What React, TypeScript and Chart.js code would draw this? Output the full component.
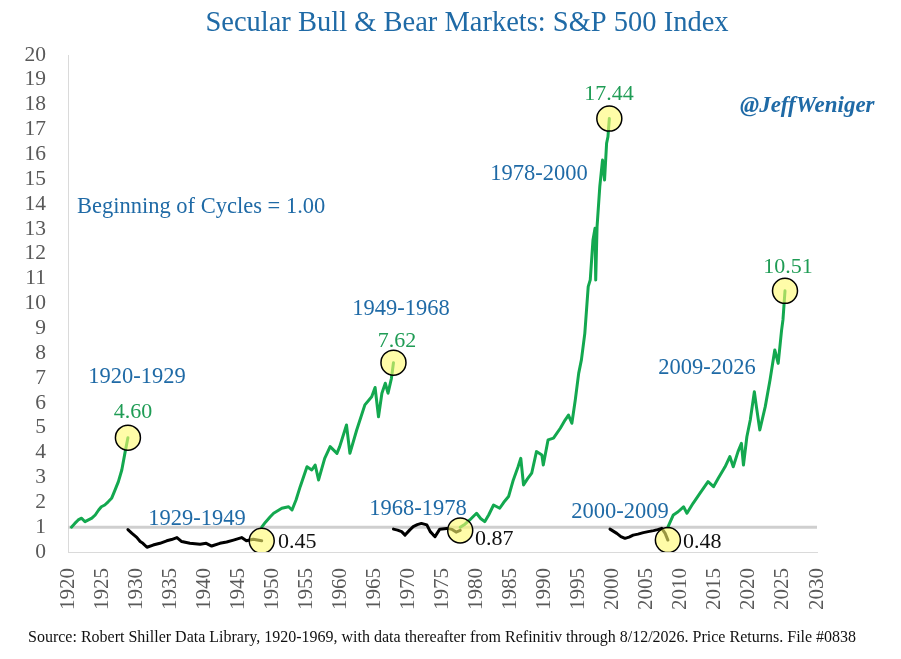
import React, { useEffect, useRef } from "react";
import { Chart, registerables } from "chart.js";

Chart.register(...registerables);

const FONT = '"Liberation Serif", "Times New Roman", serif';
const BLUE = "#1f6aa6";
const GREEN_LINE = "#13a84f";
const GREEN_TEXT = "#1f9c55";
const TICK_GRAY = "#595959";

// ---------- data (years, index value; each cycle starts at 1.00) ----------
const bull1920Years = [1920.5, 1921.0, 1921.5, 1922.0, 1922.5, 1923.0, 1923.5, 1924.0, 1924.5, 1924.9, 1925.4, 1925.9, 1926.4, 1926.9, 1927.4, 1927.9, 1928.4, 1928.8];
const bull1920Values = [1.0, 1.15, 1.29, 1.36, 1.22, 1.29, 1.36, 1.49, 1.69, 1.82, 1.89, 2.02, 2.16, 2.49, 2.83, 3.3, 4.04, 4.6];

const bear1929Years = [1928.8, 1929.4, 1930.1, 1930.6, 1931.0, 1931.6, 1932.5, 1933.5, 1934.5, 1935.2, 1936.0, 1936.7, 1937.9, 1939.4, 1940.3, 1941.1, 1942.3, 1943.3, 1944.3, 1945.5, 1946.2, 1947.2, 1948.45];
const bear1929Values = [0.9, 0.75, 0.59, 0.42, 0.35, 0.19, 0.28, 0.35, 0.45, 0.5, 0.58, 0.42, 0.35, 0.31, 0.35, 0.24, 0.35, 0.4, 0.48, 0.58, 0.45, 0.51, 0.45];

const bull1949Years = [1948.45, 1949.0, 1949.7, 1950.2, 1951.4, 1952.4, 1952.9, 1953.5, 1954.1, 1955.1, 1955.8, 1956.3, 1956.8, 1957.7, 1958.5, 1959.5, 1959.9, 1960.9, 1961.4, 1962.4, 1963.6, 1964.6, 1965.1, 1965.6, 1966.1, 1966.6, 1967.0, 1967.5, 1967.8];
const bull1949Values = [1.0, 1.2, 1.42, 1.56, 1.76, 1.82, 1.69, 2.1, 2.63, 3.43, 3.3, 3.5, 2.9, 3.77, 4.24, 3.97, 4.24, 5.11, 3.97, 4.91, 5.92, 6.25, 6.62, 5.44, 6.39, 6.79, 6.39, 6.99, 7.62];

const bear1968Years = [1967.8, 1968.4, 1969.0, 1969.5, 1970.2, 1970.7, 1971.3, 1971.9, 1972.7, 1973.2, 1973.6, 1973.9, 1974.6, 1975.6, 1976.4, 1977.0, 1977.6];
const bear1968Values = [0.92, 0.88, 0.82, 0.68, 0.89, 1.02, 1.1, 1.15, 1.09, 0.82, 0.7, 0.62, 0.92, 0.95, 0.91, 0.8, 0.87];

const bull1978Years = [1977.6, 1978.3, 1979.0, 1980.0, 1980.6, 1981.2, 1981.8, 1982.5, 1983.4, 1984.0, 1984.7, 1985.4, 1986.1, 1986.5, 1986.9, 1987.5, 1988.1, 1988.8, 1989.6, 1989.8, 1990.5, 1991.3, 1992.3, 1993.0, 1993.5, 1994.0, 1994.5, 1995.0, 1995.4, 1995.9, 1996.4, 1996.7, 1997.1, 1997.4, 1997.5, 1997.7, 1998.1, 1998.5, 1998.8, 1999.1, 1999.3, 1999.5];
const bull1978Values = [1.0, 1.12, 1.29, 1.56, 1.35, 1.22, 1.5, 1.89, 1.76, 2.0, 2.23, 2.9, 3.43, 3.77, 2.7, 2.95, 3.17, 4.04, 3.9, 3.5, 4.51, 4.58, 4.98, 5.31, 5.51, 5.18, 6.12, 7.19, 7.73, 8.8, 10.68, 10.95, 12.56, 13.03, 10.95, 13.09, 14.7, 15.77, 14.97, 16.45, 16.71, 17.44];

const bear2000Years = [1999.6, 2000.6, 2001.2, 2001.8, 2002.4, 2003.0, 2003.7, 2004.5, 2005.2, 2006.0, 2006.6, 2007.2, 2007.7, 2008.1];
const bear2000Values = [0.92, 0.75, 0.62, 0.55, 0.6, 0.68, 0.72, 0.78, 0.82, 0.86, 0.9, 0.95, 0.75, 0.48];

const bull2009Years = [2008.1, 2008.9, 2009.6, 2010.4, 2010.9, 2011.8, 2012.8, 2014.0, 2014.8, 2015.5, 2016.5, 2017.2, 2017.7, 2018.4, 2018.9, 2019.2, 2019.7, 2020.2, 2020.8, 2021.1, 2021.6, 2022.4, 2023.1, 2023.8, 2024.3, 2024.8, 2025.0, 2025.3];
const bull2009Values = [1.0, 1.49, 1.62, 1.82, 1.56, 1.96, 2.36, 2.83, 2.63, 2.97, 3.43, 3.84, 3.43, 4.04, 4.37, 3.5, 4.64, 5.31, 6.45, 5.85, 4.91, 5.85, 6.92, 8.13, 7.59, 8.93, 9.34, 10.51];

// horizontal reference at 1.00
const baseYears = [1920, 2030];
const baseValues = [1, 1];

// cycle end points (circled)
const endYears = [1928.8, 1948.45, 1967.8, 1977.6, 1999.5, 2008.1, 2025.3];
const endValues = [4.6, 0.45, 7.62, 0.87, 17.44, 0.48, 10.51];
const endIsBull = [true, false, true, false, true, false, true];

const cycleNames = ["1920-1929", "1929-1949", "1949-1968", "1968-1978", "1978-2000", "2000-2009", "2009-2026"];

const TITLE = "Secular Bull & Bear Markets: S&P 500 Index";
const NOTE = "Beginning of Cycles = 1.00";
const HANDLE = "@JeffWeniger";
const SOURCE = "Source: Robert Shiller Data Library, 1920-1969, with data thereafter from Refinitiv through 8/12/2026. Price Returns. File #0838";

// label anchors in data coordinates (text centre)
const cycleLabelPos = [
  [1930.13, 7.08],
  [1938.95, 1.37],
  [1968.91, 9.82],
  [1971.4, 1.77],
  [1989.17, 15.25],
  [2001.07, 1.65],
  [2013.85, 7.48],
];
const valueLabelPos = [
  [1929.55, 5.71],
  [1950.84, 0.44],
  [1968.32, 8.53],
  [1979.77, 0.6],
  [1999.45, 18.47],
  [2010.32, 0.44],
  [2025.74, 11.51],
];
const notePos = [1921.32, 13.96];

const pts = (xs: number[], ys: number[]) => xs.map((x, i) => ({ x, y: ys[i] }));

const lineDs = (data: { x: number; y: number }[], color: string, order: number) => ({
  type: "line" as const,
  data,
  borderColor: color,
  borderWidth: 3,
  pointRadius: 0,
  tension: 0,
  fill: false,
  borderJoinStyle: "round" as const,
  borderCapStyle: "round" as const,
  order,
});

const textPlugin = {
  id: "texts",
  afterDraw(chart: any) {
    const { ctx } = chart;
    const xs = chart.scales.x;
    const ys = chart.scales.y;
    ctx.save();
    ctx.textBaseline = "alphabetic";

    // title
    ctx.font = `28.5px ${FONT}`;
    ctx.fillStyle = BLUE;
    ctx.textAlign = "center";
    ctx.fillText(TITLE, 467, 31);

    // handle
    ctx.font = `bold italic 23px ${FONT}`;
    ctx.textAlign = "left";
    ctx.fillText(HANDLE, 740, 112);

    const size = 22.5;
    const off = size * 0.33;

    // note
    ctx.font = `${size}px ${FONT}`;
    ctx.fillStyle = BLUE;
    ctx.textAlign = "left";
    ctx.fillText(NOTE, xs.getPixelForValue(notePos[0]), ys.getPixelForValue(notePos[1]) + off);

    // cycle names
    ctx.textAlign = "center";
    cycleNames.forEach((name, i) => {
      const [px, py] = cycleLabelPos[i];
      ctx.fillText(name, xs.getPixelForValue(px), ys.getPixelForValue(py) + off);
    });

    // end values
    ctx.font = `22px ${FONT}`;
    endValues.forEach((v, i) => {
      const [px, py] = valueLabelPos[i];
      if (endIsBull[i]) {
        ctx.fillStyle = GREEN_TEXT;
        ctx.textAlign = "center";
      } else {
        ctx.fillStyle = "#111111";
        ctx.textAlign = "left";
      }
      ctx.fillText(v.toFixed(2), xs.getPixelForValue(px), ys.getPixelForValue(py) + off);
    });

    // source
    ctx.font = `16px ${FONT}`;
    ctx.fillStyle = "#111111";
    ctx.textAlign = "left";
    ctx.fillText(SOURCE, 28, 642);
    ctx.restore();
  },
};

export default function App() {
  const ref = useRef<HTMLCanvasElement | null>(null);
  useEffect(() => {
    if (!ref.current) return;
    const chart = new Chart(ref.current, {
      type: "line",
      data: {
        datasets: [
          {
            type: "scatter" as const,
            data: pts(endYears, endValues),
            pointRadius: 12.5,
            pointHoverRadius: 12.5,
            pointBackgroundColor: "rgba(255,250,110,0.6)",
            pointBorderColor: "#000000",
            pointBorderWidth: 1.5,
            showLine: false,
            order: 0,
          } as any,
          lineDs(pts(bull1920Years, bull1920Values), GREEN_LINE, 1),
          lineDs(pts(bear1929Years, bear1929Values), "#000000", 1),
          lineDs(pts(bull1949Years, bull1949Values), GREEN_LINE, 1),
          lineDs(pts(bear1968Years, bear1968Values), "#000000", 1),
          lineDs(pts(bull1978Years, bull1978Values), GREEN_LINE, 1),
          lineDs(pts(bear2000Years, bear2000Values), "#000000", 1),
          lineDs(pts(bull2009Years, bull2009Values), GREEN_LINE, 1),
          { ...lineDs(pts(baseYears, baseValues), "#cfcfcf", 2), borderCapStyle: "butt" as const },
        ],
      },
      options: {
        responsive: false,
        animation: false,
        events: [],
        layout: { padding: { top: 55, right: 84, bottom: 0, left: 0 } },
        plugins: {
          legend: { display: false },
          tooltip: { enabled: false },
          title: { display: false },
        },
        scales: {
          x: {
            type: "linear",
            min: 1920,
            max: 2030,
            grid: { display: false, drawTicks: false },
            border: { display: true, color: "#dadada", width: 1 },
            ticks: {
              stepSize: 5,
              autoSkip: false,
              maxRotation: 90,
              minRotation: 90,
              padding: 16,
              color: TICK_GRAY,
              font: { family: FONT, size: 21 },
              callback: (v: any) => String(v),
            },
            afterFit: (s: any) => {
              s.height = 107;
            },
          },
          y: {
            type: "linear",
            min: 0,
            max: 20,
            grid: { display: false, drawTicks: false },
            border: { display: true, color: "#dadada", width: 1 },
            ticks: {
              stepSize: 1,
              autoSkip: false,
              padding: 22,
              color: TICK_GRAY,
              font: { family: FONT, size: 21.5 },
              callback: (v: any) => String(v),
            },
            afterFit: (s: any) => {
              s.width = 68;
            },
          },
        },
      },
      plugins: [textPlugin],
    });
    return () => chart.destroy();
  }, []);

  return (
    <div style={{ position: "fixed", left: 0, top: 0, width: 901, height: 659, background: "#ffffff" }}>
      <canvas ref={ref} width={901} height={659} style={{ display: "block" }} />
    </div>
  );
}
